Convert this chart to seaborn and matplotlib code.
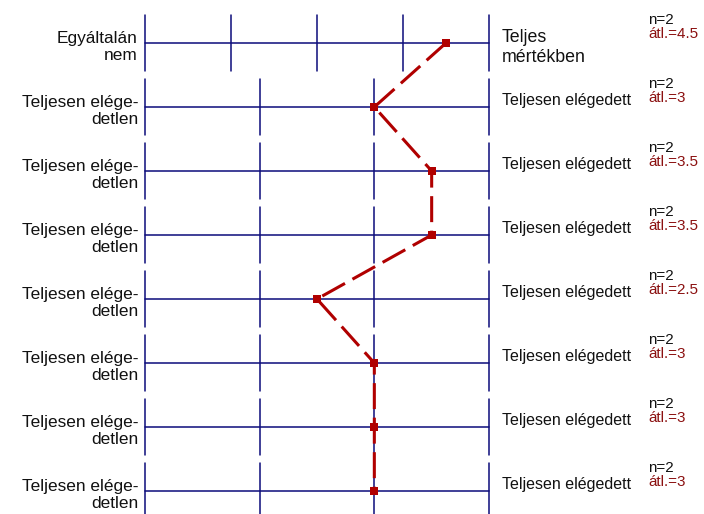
import matplotlib
matplotlib.use("Agg")
import matplotlib.pyplot as plt
import seaborn as sns
import pandas as pd
import numpy as np

left_labels = ["Egyáltalán\nnem"] + ["Teljesen elége-\ndetlen"] * 7
right_labels = ["Teljes\nmértékben"] + ["Teljesen elégedett"] * 7
scale_points = [5, 4, 4, 4, 4, 4, 4, 4]
means = [4.5, 3, 3.5, 3.5, 2.5, 3, 3, 3]
counts = [2, 2, 2, 2, 2, 2, 2, 2]
mean_labels = ["4.5", "3", "3.5", "3.5", "2.5", "3", "3", "3"]

sns.set_theme(style="white")
plt.rcParams["font.family"] = ["Liberation Sans", "DejaVu Sans"]

W, H, DPI = 704, 514, 100
fig = plt.figure(figsize=(W / DPI, H / DPI), dpi=DPI)
ax = fig.add_axes([145 / W, 0, 344 / W, 1])
ax.set_xlim(0, 1)
row_h = 64
ax.set_ylim((H - 43) / row_h, -43 / row_h)
ax.axis("off")

navy = "#0c0c7a"
red = "#b00000"
half = 28 / row_h

for i, k in enumerate(scale_points):
    ax.plot([0, 1], [i, i], color=navy, lw=1.1, clip_on=False, zorder=1)
    for j in range(k):
        x = j / (k - 1)
        ax.plot([x, x], [i - half, i + half], color=navy, lw=1.1, clip_on=False, zorder=1)

df = pd.DataFrame({
    "pos": [(m - 1) / (k - 1) for m, k in zip(means, scale_points)],
    "row": list(range(len(means))),
})
sns.lineplot(data=df, x="pos", y="row", sort=False, estimator=None, ax=ax,
             color=red, lw=2.2, linestyle=(0, (8.5, 2.8)), marker="s",
             markersize=6.3, markeredgewidth=0, clip_on=False, zorder=3)

for i in range(len(means)):
    ax.annotate(left_labels[i], xy=(0, i), xytext=(-7, 12), textcoords="offset pixels",
                ha="right", va="top", fontsize=12.4, color="#111111", linespacing=1.15,
                annotation_clip=False)
    two = "\n" in right_labels[i]
    rfs = 12.8 if two else 11.5
    ax.annotate(right_labels[i], xy=(1, i), xytext=(13, 14), textcoords="offset pixels",
                ha="left", va="top", fontsize=rfs, color="#111111", linespacing=1.2,
                annotation_clip=False)
    ax.annotate(f"n={counts[i]}", xy=(1, i), xytext=(159, 30), textcoords="offset pixels",
                ha="left", va="top", fontsize=10.9, color="#111111", annotation_clip=False)
    ax.annotate(f"átl.={mean_labels[i]}", xy=(1, i), xytext=(159, 16), textcoords="offset pixels",
                ha="left", va="top", fontsize=10.9, color="#8b1010", annotation_clip=False)

fig.savefig("out.png", dpi=DPI)
